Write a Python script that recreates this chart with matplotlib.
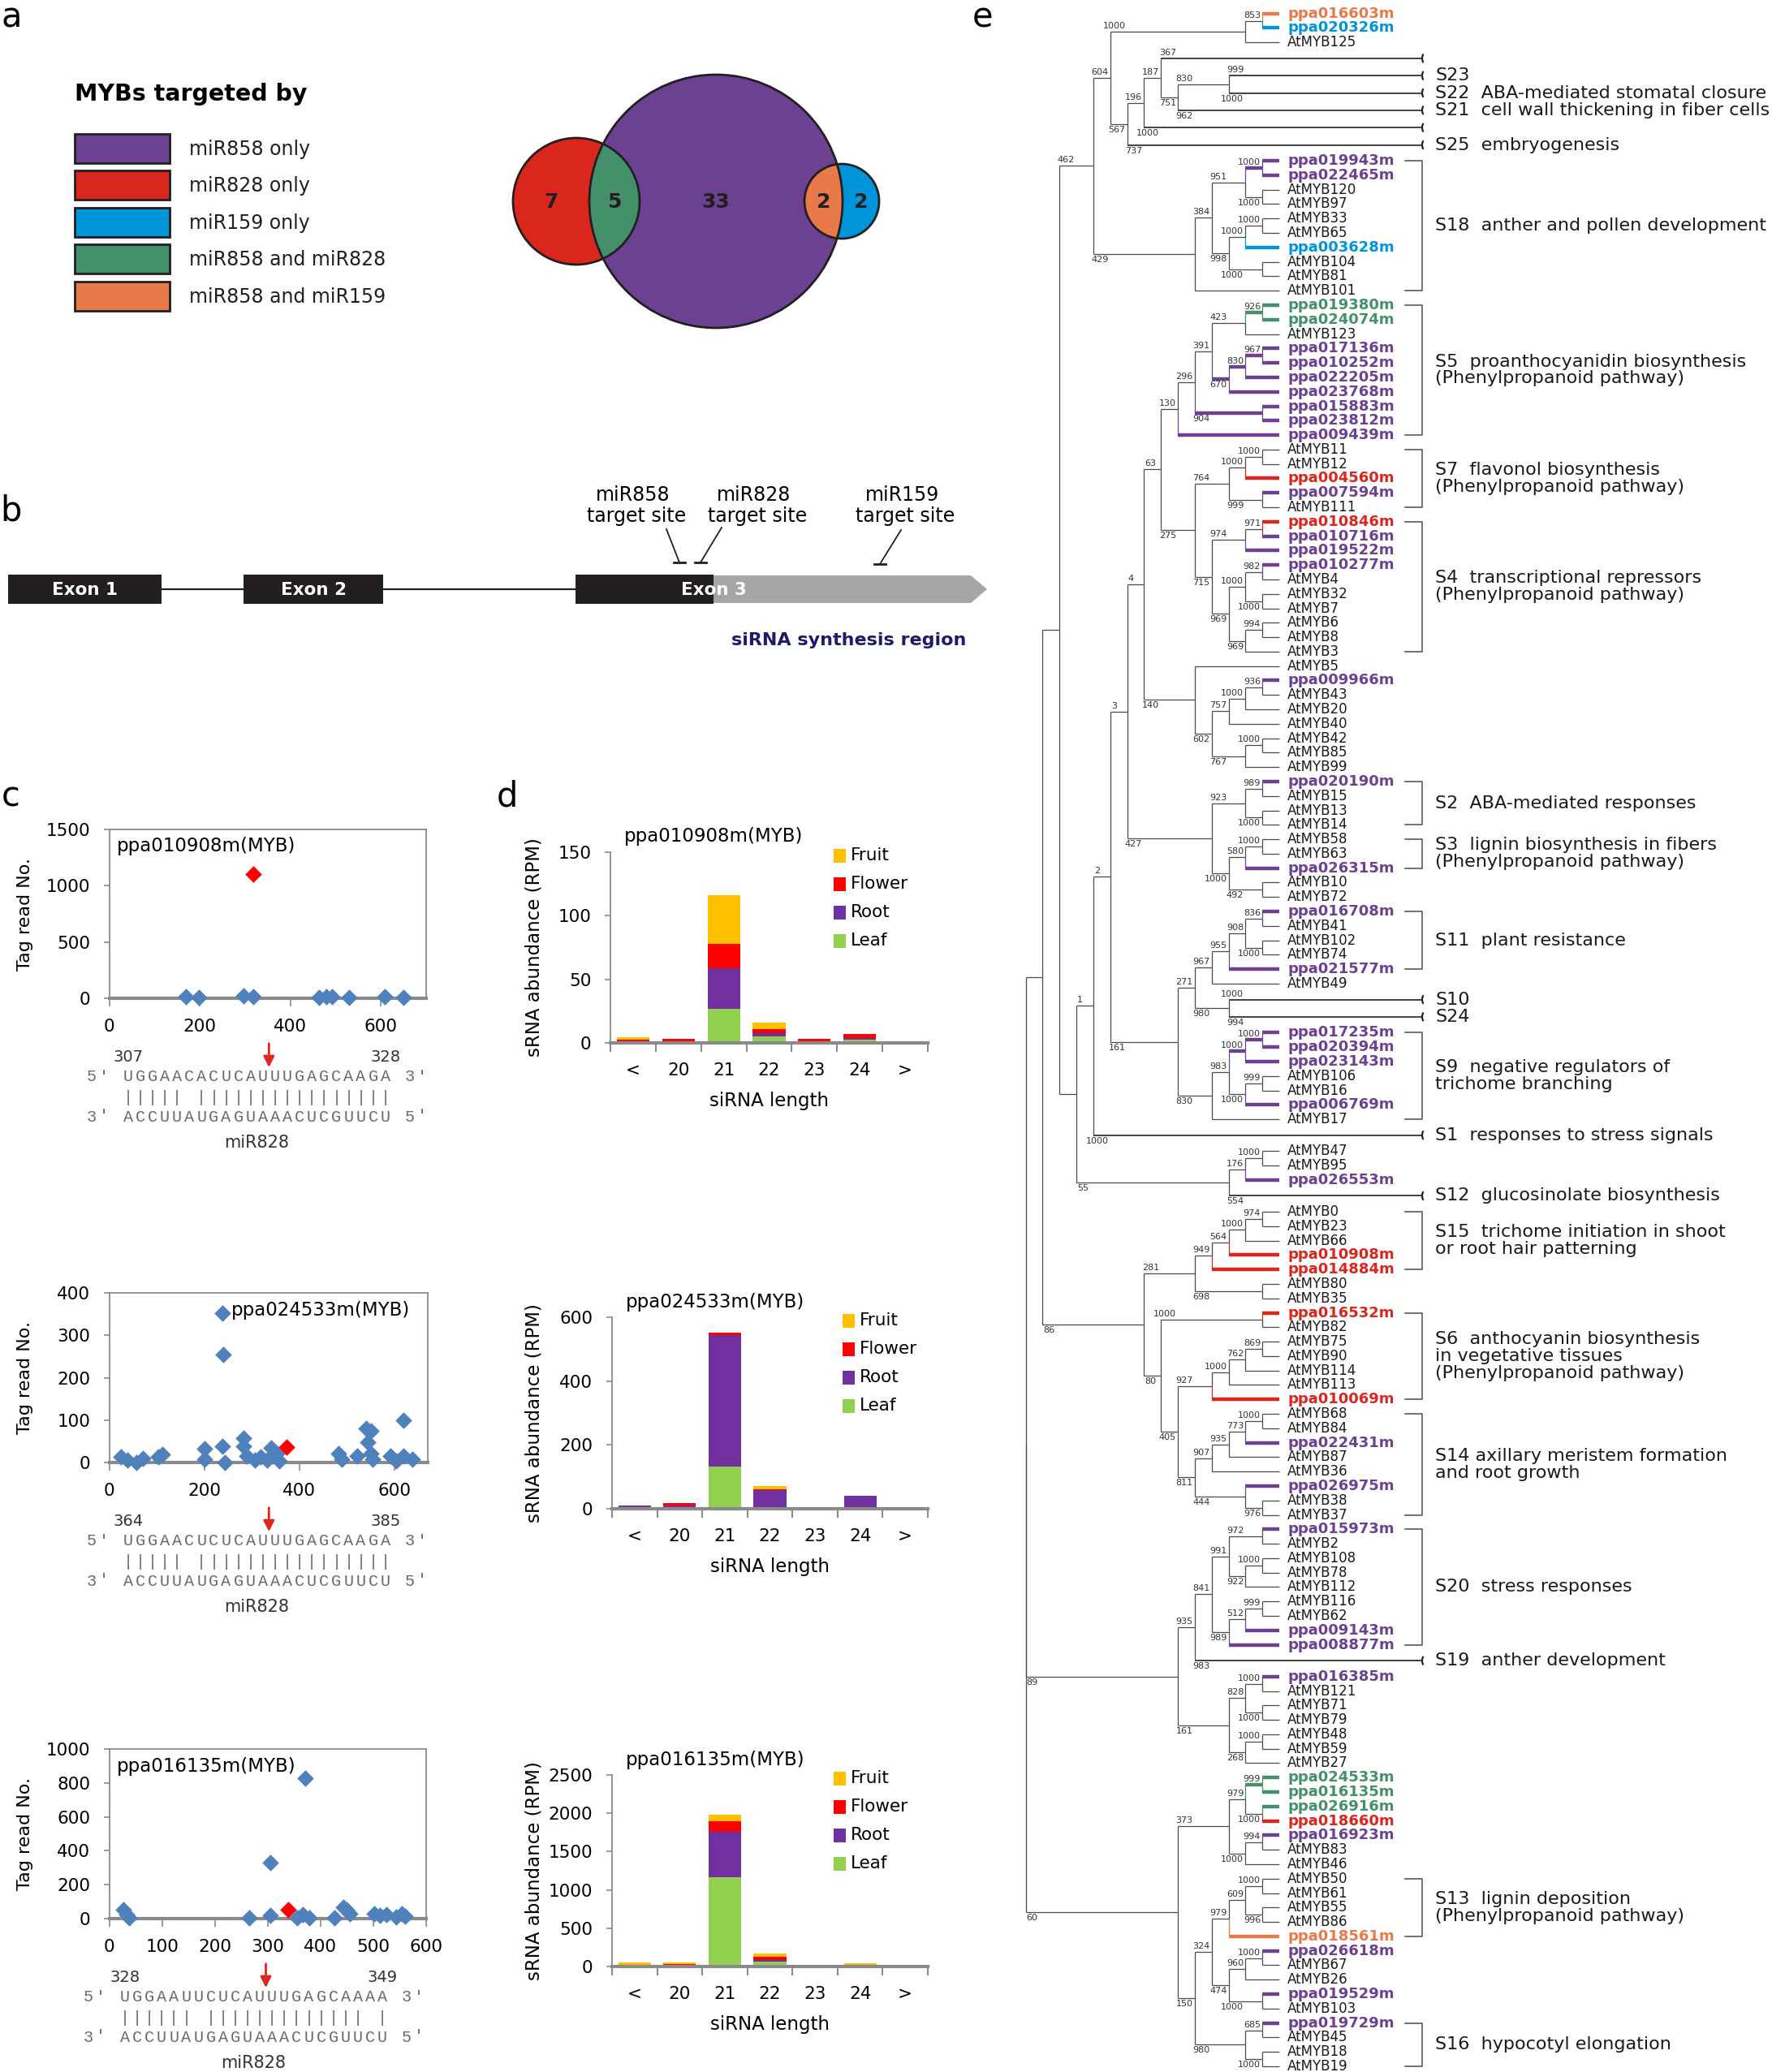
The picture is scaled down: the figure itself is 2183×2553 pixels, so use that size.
import numpy as np
import matplotlib
matplotlib.use("Agg")
import matplotlib.pyplot as plt
from matplotlib.patches import Circle, Rectangle, Polygon, Arc

# ---------------- panel a / tree colours: ppa MYBs per miRNA group ----------------
mir858_only = ['ppa019943m', 'ppa022465m', 'ppa017136m', 'ppa010252m', 'ppa022205m',
               'ppa023768m', 'ppa015883m', 'ppa023812m', 'ppa009439m', 'ppa007594m',
               'ppa010716m', 'ppa019522m', 'ppa010277m', 'ppa009966m', 'ppa020190m',
               'ppa026315m', 'ppa016708m', 'ppa021577m', 'ppa017235m', 'ppa020394m',
               'ppa023143m', 'ppa006769m', 'ppa026553m', 'ppa022431m', 'ppa026975m',
               'ppa015973m', 'ppa009143m', 'ppa008877m', 'ppa016385m', 'ppa016923m',
               'ppa026618m', 'ppa019529m', 'ppa019729m']
mir828_only = ['ppa004560m', 'ppa010846m', 'ppa010908m', 'ppa014884m', 'ppa016532m',
               'ppa010069m', 'ppa018660m']
mir159_only = ['ppa020326m', 'ppa003628m']
mir858_and_828 = ['ppa019380m', 'ppa024074m', 'ppa024533m', 'ppa016135m', 'ppa026916m']
mir858_and_159 = ['ppa016603m', 'ppa018561m']
group_names = ['miR858 only', 'miR828 only', 'miR159 only', 'miR858 and miR828', 'miR858 and miR159']
group_lists = [mir858_only, mir828_only, mir159_only, mir858_and_828, mir858_and_159]
group_colors = ['#6C4191', '#DA261D', '#0095DA', '#44906A', '#E8794B']

# ---------------- panel b ----------------
exon_names = ['Exon 1', 'Exon 2', 'Exon 3']
target_sites = ['miR858', 'miR828', 'miR159']

# ---------------- panel c: tag reads along the transcript ----------------
gene_names = ['ppa010908m(MYB)', 'ppa024533m(MYB)', 'ppa016135m(MYB)']
c1_x = [170, 197, 296, 318, 464, 480, 492, 530, 608, 649]
c1_y = [15, 10, 20, 12, 10, 15, 12, 10, 15, 5]
c2_x = [25, 38, 57, 71, 103, 112, 201, 201, 238, 240, 238, 243, 282, 282, 290, 306, 319,
        332, 341, 345, 358, 352, 482, 489, 522, 541, 552, 544, 552, 554, 593, 604, 620,
        620, 639]
c2_y = [14, 6, 0, 10, 14, 19, 32, 8, 352, 254, 38, 0, 58, 38, 16, 6, 13, 6, 35, 16, 3,
        22, 22, 8, 16, 80, 74, 48, 22, 8, 16, 3, 99, 16, 8]
c3_x = [26, 32, 38, 265, 305, 305, 356, 367, 371, 379, 426, 443, 449, 455, 502, 513, 525,
        543, 554, 560]
c3_y = [55, 25, 5, 3, 330, 19, 3, 25, 828, 6, 6, 67, 51, 27, 27, 19, 22, 11, 27, 16]
cleaved_x = [318, 374, 339]
cleaved_y = [1105, 36, 51]
scatter_x = [c1_x, c2_x, c3_x]
scatter_y = [c1_y, c2_y, c3_y]
scatter_xmax = [700, 670, 600]
scatter_ymax = [1500, 400, 1000]
scatter_xstep = [200, 200, 100]
scatter_ystep = [500, 100, 200]

site_start = [307, 364, 328]
site_end = [328, 385, 349]
target_seq = ['UGGAACACUCAUUUGAGCAAGA', 'UGGAACUCUCAUUUGAGCAAGA', 'UGGAAUUCUCAUUUGAGCAAAA']
pair_marks = ['||||| ||||||||||||||||', '||||| ||||||||||||||||', '|||||| ||||||||||||| |']
mir828_seq = 'ACCUUAUGAGUAAACUCGUUCU'
cleave_after = 12

# ---------------- panel d: sRNA abundance by length ----------------
lengths = ['<', '20', '21', '22', '23', '24', '>']
tissues = ['Fruit', 'Flower', 'Root', 'Leaf']
tissue_colors = {'Fruit': '#FFC000', 'Flower': '#FF0000', 'Root': '#7030A0', 'Leaf': '#92D050'}
d1 = {'Leaf': [0.5, 0.5, 27, 5, 0.5, 2.5, 0.3], 'Root': [0.5, 0.5, 32, 2.5, 0.5, 1.5, 0.8],
      'Flower': [1.5, 2.5, 19, 3.5, 2, 3, 0], 'Fruit': [2, 0, 38, 5, 0, 0.3, 0]}
d2 = {'Leaf': [1, 1, 132, 2, 0.5, 1, 0.5], 'Root': [8, 8, 411, 57, 5, 40, 2],
      'Flower': [0.5, 9, 8, 2, 0.5, 0.5, 0], 'Fruit': [0, 0.5, 0.5, 9, 0, 0, 0]}
d3 = {'Leaf': [5, 5, 1168, 60, 2, 5, 2], 'Root': [5, 10, 595, 30, 5, 5, 15],
      'Flower': [15, 12, 135, 40, 8, 5, 2], 'Fruit': [25, 30, 78, 40, 0, 30, 0]}
bar_data = [d1, d2, d3]
bar_ymax = [150, 600, 2500]
bar_ystep = [50, 200, 500]

# ---------------- panel e: MYB tree ----------------
# internal node: [bootstrap, child, child...]; collapsed subfamily: (label, hidden depth, bootstrap)
top = [604, [1000, [853, 'ppa016603m', 'ppa020326m'], 'AtMYB125'],
       [567, [196, [187, ('', 0, 367), [751, [830, ('S23', 2, 999), ('S22', 2, 1000)], ('S21', 5, 962)]],
              ('', 0, 1000)], ('S25', 0, 737)]]
s18 = [429, [384, [951, [1000, 'ppa019943m', 'ppa022465m'], [1000, 'AtMYB120', 'AtMYB97']],
             [998, [1000, [1000, 'AtMYB33', 'AtMYB65'], 'ppa003628m'], [1000, 'AtMYB104', 'AtMYB81']]],
       'AtMYB101']
s5 = [130, [296, [391, [423, [926, 'ppa019380m', 'ppa024074m'], 'AtMYB123'],
                  [670, [830, [967, 'ppa017136m', 'ppa010252m'], 'ppa022205m'], 'ppa023768m']],
            [904, 'ppa015883m', 'ppa023812m']], 'ppa009439m']
s7_s4 = [275, [764, [1000, [1000, 'AtMYB11', 'AtMYB12'], 'ppa004560m'], [999, 'ppa007594m', 'AtMYB111']],
         [715, [974, [971, 'ppa010846m', 'ppa010716m'], 'ppa019522m'],
          [969, [1000, [982, 'ppa010277m', 'AtMYB4'], [1000, 'AtMYB32', 'AtMYB7']],
           [969, [994, 'AtMYB6', 'AtMYB8'], 'AtMYB3']]]]
g140 = [140, 'AtMYB5', [602, [757, [1000, [936, 'ppa009966m', 'AtMYB43'], 'AtMYB20'], 'AtMYB40'],
                        [767, [1000, 'AtMYB42', 'AtMYB85'], 'AtMYB99']]]
s2_s3 = [427, [923, [989, 'ppa020190m', 'AtMYB15'], [1000, 'AtMYB13', 'AtMYB14']],
         [1000, [580, [1000, 'AtMYB58', 'AtMYB63'], 'ppa026315m'], [492, 'AtMYB10', 'AtMYB72']]]
g161 = [161, [271, [967, [955, [908, [836, 'ppa016708m', 'AtMYB41'], [1000, 'AtMYB102', 'AtMYB74']],
                          'ppa021577m'], 'AtMYB49'], [980, ('S10', 2, 1000), ('S24', 2, 994)]],
        [830, [983, [1000, [1000, 'ppa017235m', 'ppa020394m'], 'ppa023143m'],
               [1000, [999, 'AtMYB106', 'AtMYB16'], 'ppa006769m']], 'AtMYB17']]
g55 = [55, [176, [1000, 'AtMYB47', 'AtMYB95'], 'ppa026553m'], ('S12', 0, 554)]
g86 = [86, [281, [949, [564, [1000, [974, 'AtMYB0', 'AtMYB23'], 'AtMYB66'], 'ppa010908m'], 'ppa014884m'],
            [698, 'AtMYB80', 'AtMYB35']],
       [80, [1000, 'ppa016532m', 'AtMYB82'],
        [405, [927, [1000, [762, [869, 'AtMYB75', 'AtMYB90'], 'AtMYB114'], 'AtMYB113'], 'ppa010069m'],
         [811, [907, [935, [773, [1000, 'AtMYB68', 'AtMYB84'], 'ppa022431m'], 'AtMYB87'], 'AtMYB36'],
          [444, 'ppa026975m', [976, 'AtMYB38', 'AtMYB37']]]]]]
g89 = [89, [935, [841, [991, [972, 'ppa015973m', 'AtMYB2'], [922, [1000, 'AtMYB108', 'AtMYB78'], 'AtMYB112']],
                  [989, [512, [999, 'AtMYB116', 'AtMYB62'], 'ppa009143m'], 'ppa008877m']], ('S19', 0, 983)],
       [161, [828, [1000, 'ppa016385m', 'AtMYB121'], [1000, 'AtMYB71', 'AtMYB79']],
        [268, [1000, 'AtMYB48', 'AtMYB59'], 'AtMYB27']]]
g60 = [60, [373, [979, [999, 'ppa024533m', 'ppa016135m'], [1000, 'ppa026916m', 'ppa018660m']],
            [1000, [994, 'ppa016923m', 'AtMYB83'], 'AtMYB46']],
       [150, [324, [979, [609, [1000, 'AtMYB50', 'AtMYB61'], [996, 'AtMYB55', 'AtMYB86']], 'ppa018561m'],
              [474, [960, [1000, 'ppa026618m', 'AtMYB67'], 'AtMYB26'], [1000, 'ppa019529m', 'AtMYB103']]],
        [980, [685, 'ppa019729m', 'AtMYB45'], [1000, 'AtMYB18', 'AtMYB19']]]]
tree = [None, [None, [None, [462, top, s18],
                      [None, [1, [2, [3, [4, [63, s5, s7_s4], g140], s2_s3], g161], ('S1', 0, 1000)], g55]],
               g86], g89, g60]

collapsed_text = {'S23': 'S23', 'S22': 'S22  ABA-mediated stomatal closure',
                  'S21': 'S21  cell wall thickening in fiber cells', 'S25': 'S25  embryogenesis',
                  'S10': 'S10', 'S24': 'S24', 'S1': 'S1  responses to stress signals',
                  'S12': 'S12  glucosinolate biosynthesis', 'S19': 'S19  anther development'}
brackets = [
    ('S18  anther and pollen development', 'ppa019943m', 'AtMYB101'),
    ('S5  proanthocyanidin biosynthesis\n(Phenylpropanoid pathway)', 'ppa019380m', 'ppa009439m'),
    ('S7  flavonol biosynthesis\n(Phenylpropanoid pathway)', 'AtMYB11', 'AtMYB111'),
    ('S4  transcriptional repressors\n(Phenylpropanoid pathway)', 'ppa010846m', 'AtMYB3'),
    ('S2  ABA-mediated responses', 'ppa020190m', 'AtMYB14'),
    ('S3  lignin biosynthesis in fibers\n(Phenylpropanoid pathway)', 'AtMYB58', 'ppa026315m'),
    ('S11  plant resistance', 'ppa016708m', 'ppa021577m'),
    ('S9  negative regulators of\ntrichome branching', 'ppa017235m', 'AtMYB17'),
    ('S15  trichome initiation in shoot\nor root hair patterning', 'AtMYB0', 'ppa014884m'),
    ('S6  anthocyanin biosynthesis\nin vegetative tissues\n(Phenylpropanoid pathway)', 'ppa016532m', 'ppa010069m'),
    ('S14 axillary meristem formation\nand root growth', 'AtMYB68', 'AtMYB37'),
    ('S20  stress responses', 'ppa015973m', 'ppa008877m'),
    ('S13  lignin deposition\n(Phenylpropanoid pathway)', 'AtMYB50', 'ppa018561m'),
    ('S16  hypocotyl elongation', 'ppa019729m', 'AtMYB19'),
]

# ====================================================================
W, H = 2183, 2553
fig = plt.figure(figsize=(W / 100, H / 100), dpi=100)
cv = fig.add_axes([0, 0, 1, 1])
cv.set_xlim(0, W)
cv.set_ylim(H, 0)
cv.axis('off')


def ax_at(l, t, r, b):
    a = fig.add_axes([l / W, 1 - b / H, (r - l) / W, (b - t) / H])
    a.set_facecolor('none')
    return a


# panel letters
cv.text(2, 1, 'a', fontsize=30, va='top', ha='left')
cv.text(1198, 1, 'e', fontsize=30, va='top', ha='left')
for letter, (x, y) in zip('bcd', [(0, 642), (2, 993), (612, 993)]):
    cv.text(x, y, letter, fontsize=30, va='baseline', ha='left')

# ---------------- panel a ----------------
cv.text(92, 124, 'MYBs targeted by', fontsize=20.5, fontweight='bold', va='baseline')
for i, (nm, col) in enumerate(zip(group_names, group_colors)):
    yc = 182.5 + i * 45.6
    cv.add_patch(Rectangle((92, yc - 18), 117, 36, facecolor=col, edgecolor='#231F20', lw=2))
    cv.text(233, yc + 8, nm, fontsize=17, va='baseline', color='#231F20')

pur_xy, pur_r = (882, 248), 156
red_xy, red_r = (710, 248), 78
blu_xy, blu_r = (1037, 248), 46
cv.add_patch(Circle(pur_xy, pur_r, facecolor=group_colors[0], edgecolor='none'))
cv.add_patch(Circle(red_xy, red_r, facecolor=group_colors[1], edgecolor='none'))
cv.add_patch(Circle(blu_xy, blu_r, facecolor=group_colors[2], edgecolor='none'))
for xy, r, col in [(red_xy, red_r, group_colors[3]), (blu_xy, blu_r, group_colors[4])]:
    lens = Circle(xy, r, facecolor=col, edgecolor='none')
    cv.add_patch(lens)
    lens.set_clip_path(Circle(pur_xy, pur_r, transform=cv.transData))
for xy, r in [(pur_xy, pur_r), (red_xy, red_r), (blu_xy, blu_r)]:
    cv.add_patch(Circle(xy, r, facecolor='none', edgecolor='#231F20', lw=2))
counts = [len(g) for g in group_lists]
p_l, p_r = pur_xy[0] - pur_r, pur_xy[0] + pur_r
num_x = [pur_xy[0], (red_xy[0] - red_r + p_l) / 2, (p_r + blu_xy[0] + blu_r) / 2,
         (p_l + red_xy[0] + red_r) / 2, (blu_xy[0] - blu_r + p_r) / 2]
for cnt, x in zip(counts, num_x):
    cv.text(x, 249, str(cnt), fontsize=18, fontweight='bold', ha='center', va='center', color='#231F20')

# ---------------- panel b ----------------
cv.plot([100, 720], [726, 726], color='#231F20', lw=1.6, zorder=1)
for (x0, x1) in [(10, 199), (300, 472)]:
    cv.add_patch(Rectangle((x0, 708), x1 - x0, 36, facecolor='#231F20', zorder=2))
cv.add_patch(Polygon([(879, 709), (1196, 709), (1216, 726), (1196, 743), (879, 743)],
                     facecolor='#A6A6A6', edgecolor='none', zorder=2))
cv.add_patch(Rectangle((709, 708), 170, 36, facecolor='#231F20', zorder=2))
for nm, x in zip(exon_names, [104, 386, 879]):
    cv.text(x, 727, nm, color='white', fontsize=15.5, fontweight='bold', ha='center', va='center', zorder=3)
for nm, tx, (xa, ya, xb, yb) in zip(target_sites, [780, 929, 1111],
                                   [(821, 652, 837, 693), (889, 650, 863, 693), (1110, 653, 1084, 695)]):
    cv.text(tx, 617, nm, fontsize=17, ha='center', va='baseline')
    cv.text(tx + 4, 643, 'target site', fontsize=17, ha='center', va='baseline')
    cv.plot([xa, xb], [ya, yb], color='#231F20', lw=1.3)
    cv.plot([xb - 7, xb + 7], [yb, yb], color='#231F20', lw=2)
cv.text(1046, 795, 'siRNA synthesis region', fontsize=16, fontweight='bold', color='#1E1B6A',
        ha='center', va='baseline')

# ---------------- panel c ----------------
sc_box = [(134.7, 1022, 525, 1230), (134.7, 1593, 526.5, 1802), (134.7, 2155, 525, 2364)]
title_dx = [9, 150, 9]
frame = '#8A8A8A'
cw = 15.1
for k in range(3):
    l, t, r, b = sc_box[k]
    ax = ax_at(l, t, r, b)
    ax.scatter(scatter_x[k], scatter_y[k], marker='D', s=110, color='#4F81BD', linewidths=0,
               clip_on=False, zorder=3)
    ax.scatter([cleaved_x[k]], [cleaved_y[k]], marker='D', s=110, color='#FF0000', linewidths=0,
               clip_on=False, zorder=4)
    ax.set_xlim(0, scatter_xmax[k])
    ax.set_ylim(0, scatter_ymax[k])
    ax.set_xticks(np.arange(0, scatter_xmax[k] + 1, scatter_xstep[k]))
    ax.set_yticks(np.arange(0, scatter_ymax[k] + 1, scatter_ystep[k]))
    for s in ['left', 'top', 'right']:
        ax.spines[s].set_color(frame)
        ax.spines[s].set_linewidth(1.3)
    ax.spines['bottom'].set_color(frame)
    ax.spines['bottom'].set_linewidth(3)
    ax.tick_params(axis='y', direction='out', length=5, width=1.2, color=frame, labelsize=15.5, pad=12)
    ax.tick_params(axis='x', direction='out', length=7, width=1.2, color=frame, labelsize=15.5, pad=11)
    cv.text(l + title_dx[k], t + 21, gene_names[k], fontsize=16.5, va='center', ha='left')
    cv.text(31, (t + b) / 2, 'Tag read No.', fontsize=16, rotation=90, ha='center', va='center')

    # target site alignment
    x0 = 104.8 if k < 2 else 101
    rows = [("5' " + target_seq[k] + " 3'", b + 97), ('   ' + pair_marks[k], b + 122),
            ("3' " + mir828_seq + " 5'", b + 146)]
    for line, yy in rows:
        for i, ch in enumerate(line):
            if ch != ' ':
                cv.text(x0 + (i + 0.5) * cw, yy, ch, fontsize=14.5, family='Liberation Mono',
                        color='#6A6A6A', ha='center', va='center')
    cv.text(x0 + 3.5 * cw, b + 73, str(site_start[k]), fontsize=14, ha='center', va='center', color='#333333')
    cv.text(x0 + 24.5 * cw, b + 73, str(site_end[k]), fontsize=14, ha='center', va='center', color='#333333')
    xa = x0 + (3 + cleave_after) * cw
    cv.annotate('', xy=(xa, b + 88), xytext=(xa, b + 53),
                arrowprops=dict(arrowstyle='-|>', color='#E0261F', lw=2, mutation_scale=20))
    cv.text(x0 + 14 * cw, b + 178, 'miR828', fontsize=15, ha='center', va='center', color='#333333')

# ---------------- panel d ----------------
bar_box = [(752, 1050, 1143, 1285), (754, 1623, 1143, 1859), (754, 2187, 1143, 2423)]
leg_x = [1027, 1038, 1027]
xs = np.arange(len(lengths))
for k in range(3):
    l, t, r, b = bar_box[k]
    ax = ax_at(l, t, r, b)
    bottom = np.zeros(len(lengths))
    for tis in ['Leaf', 'Root', 'Flower', 'Fruit']:
        vals = np.array(bar_data[k][tis], dtype=float)
        ax.bar(xs, vals, 0.72, bottom=bottom, color=tissue_colors[tis], linewidth=0)
        bottom += vals
    ax.set_xlim(-0.5, len(lengths) - 0.5)
    ax.set_ylim(0, bar_ymax[k])
    ax.set_yticks(np.arange(0, bar_ymax[k] + 1, bar_ystep[k]))
    ax.set_xticks(xs)
    ax.set_xticklabels(lengths)
    ax.set_xticks(np.arange(-0.5, len(lengths)), minor=True)
    for s in ['top', 'right']:
        ax.spines[s].set_visible(False)
    ax.spines['left'].set_color(frame)
    ax.spines['left'].set_linewidth(1.3)
    ax.spines['bottom'].set_color(frame)
    ax.spines['bottom'].set_linewidth(3)
    ax.tick_params(axis='y', direction='out', length=5, width=1.2, color=frame, labelsize=15.5, pad=12)
    ax.tick_params(axis='x', which='major', length=0, labelsize=15.5, pad=17)
    ax.tick_params(axis='x', which='minor', direction='out', length=8, width=1.5, color=frame)
    cv.text(l + 17, t - 19, gene_names[k], fontsize=16.5, va='center', ha='left')
    cv.text(658, (t + b) / 2, 'sRNA abundance (RPM)', fontsize=16.5, rotation=90, ha='center', va='center')
    cv.text((l + r) / 2, b + 72, 'siRNA length', fontsize=16.5, ha='center', va='center')
    for i, tis in enumerate(tissues):
        yy = t + 4 + i * 35
        cv.add_patch(Rectangle((leg_x[k], yy - 8.5), 15, 17, facecolor=tissue_colors[tis], edgecolor='none'))
        cv.text(leg_x[k] + 21, yy, tis, fontsize=15.5, va='center', ha='left')

# ---------------- panel e: tree ----------------
TIP_X, STEP, COLL_X = 1576, 20.83, 1752
LEAF_X, CLADE_X, BRK_X0 = 1586, 1768, 1731
LINE = '#4A4A4A'
tip_color = {nm: col for names, col in zip(group_lists, group_colors) for nm in names}


def is_leaf(n):
    return isinstance(n, str)


def is_coll(n):
    return isinstance(n, tuple)


def height(n):
    if is_leaf(n):
        return 0
    if is_coll(n):
        return n[1]
    return 1 + max(height(c) for c in n[1:])


def clade_color(n):
    if is_leaf(n):
        return tip_color.get(n)
    if is_coll(n):
        return None
    cols = {clade_color(c) for c in n[1:]}
    return cols.pop() if len(cols) == 1 else None


tips = []


def collect(n):
    if is_leaf(n) or is_coll(n):
        tips.append(n)
        return
    for c in n[1:]:
        collect(c)


collect(tree)
wts = np.array([1.2 if is_coll(t) else 1.0 for t in tips])
gaps = (wts[:-1] + wts[1:]) / 2
gsz = (2546 - 16.7) / gaps.sum()
tip_y = 16.7 + np.concatenate([[0], np.cumsum(gaps)]) * gsz
ypos = {id(t): y for t, y in zip(tips, tip_y)}
leaf_y = {t: y for t, y in zip(tips, tip_y) if is_leaf(t)}


def draw(n):
    if is_leaf(n):
        return TIP_X, ypos[id(n)]
    if is_coll(n):
        return COLL_X, ypos[id(n)]
    pts = [draw(c) for c in n[1:]]
    x = TIP_X - STEP * height(n)
    y = (pts[0][1] + pts[-1][1]) / 2
    for i, (c, (cx, cy)) in enumerate(zip(n[1:], pts)):
        col = clade_color(c)
        cv.plot([x, x], [y, cy], color=col or LINE, lw=0.9, solid_capstyle='butt')
        if is_coll(c):
            cv.plot([x, cx], [cy, cy], color='#333333', lw=1.3, solid_capstyle='butt')
        else:
            cv.plot([x, cx], [cy, cy], color=col or LINE, lw=3.2 if col else 0.9, solid_capstyle='butt')
        sup = c[0] if isinstance(c, list) else (c[2] if is_coll(c) else None)
        if sup is not None:
            s = str(sup)
            dy, va = (-2, 'bottom') if i == 0 else (2, 'top')
            if len(s) >= 3:
                cv.text(x + 0.9 * STEP, cy + dy, s, fontsize=8, ha='right', va=va, color='#333333')
            else:
                cv.text(x + 1, cy + dy, s, fontsize=8, ha='left', va=va, color='#333333')
    return x, y


draw(tree)

for t, y in zip(tips, tip_y):
    if is_leaf(t):
        if t in tip_color:
            cv.text(LEAF_X, y, t, fontsize=13, fontweight='bold', color=tip_color[t], va='center', ha='left')
        else:
            cv.text(LEAF_X, y, t, fontsize=12, color='#1A1A1A', va='center', ha='left')
    else:
        cv.add_patch(Arc((COLL_X + 6, y), 12, 16, theta1=130, theta2=230, color='#222222', lw=1.6))
        if t[0]:
            cv.text(CLADE_X, y, collapsed_text[t[0]], fontsize=16, va='center', ha='left', color='#1A1A1A')

for label, first, last in brackets:
    y1, y2 = leaf_y[first], leaf_y[last]
    cv.plot([BRK_X0, COLL_X, COLL_X, BRK_X0], [y1, y1, y2, y2], color=LINE, lw=1.1)
    cv.text(CLADE_X, (y1 + y2) / 2, label, fontsize=16, va='center', ha='left', color='#1A1A1A',
            linespacing=1.05)

fig.savefig('out.png', dpi=100)
